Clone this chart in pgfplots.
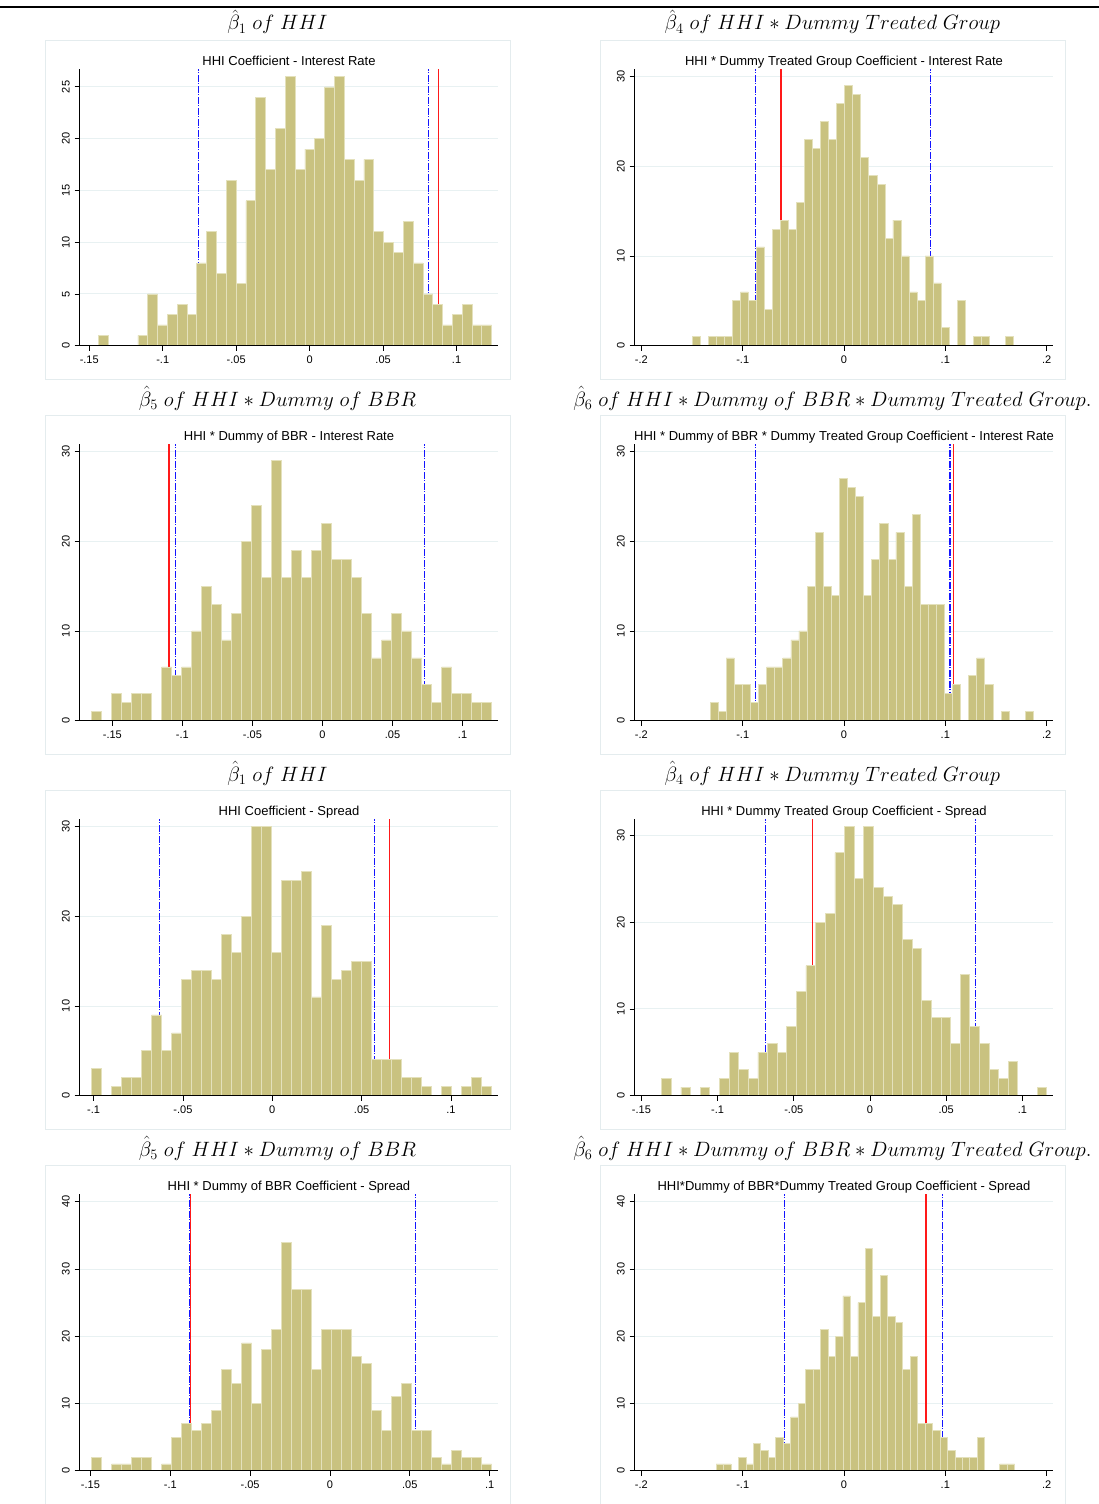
\documentclass[border=0pt]{standalone}
\usepackage{fontspec}
\setmainfont{Liberation Sans}
\usepackage{pgfplots}
\pgfplotsset{compat=1.18}

\definecolor{barfill}{RGB}{201,194,128}
\definecolor{baredge}{RGB}{228,225,188}
\definecolor{gridc}{RGB}{232,241,242}
\definecolor{panelc}{RGB}{228,236,238}
\definecolor{ciblue}{RGB}{20,20,255}
\definecolor{ptred}{RGB}{255,25,25}

\pgfplotsset{
  hist/.style={
    scale only axis, width=418.6pt, height=276.4pt, anchor=south west,
    ymin=0,
    axis x line*=bottom, axis y line*=left,
    axis line style={black, line width=0.9pt, -},
    tick style={black, line width=0.8pt},
    tick align=outside, major tick length=5pt,
    ymajorgrids, grid style={gridc, line width=0.9pt},
    xticklabel style={font=\fontsize{11}{13}\selectfont},
    xticklabel shift=2pt,
    yticklabel style={rotate=90, anchor=south, font=\fontsize{11}{13}\selectfont},
    yticklabel shift=1.5pt,
    title style={at={(0.5,1)}, anchor=base, yshift=-2pt, font=\fontsize{13}{15}\selectfont},
  },
  bars/.style={ybar interval, fill=barfill, draw=baredge, line width=0.7pt},
  ciline/.style={ciblue, line width=1.1pt, dash pattern=on 7pt off 1.5pt on 1pt off 1.5pt},
  ptline/.style={ptred, line width=1.2pt},
}
\tikzset{xaxisagain/.style={black, line width=0.9pt}}

\begin{document}
\begin{tikzpicture}
\useasboundingbox (0,0) rectangle (1099pt,-1504pt);
\draw[line width=2pt] (0,-7pt) -- (1099pt,-7pt);

% panel frames
\foreach \px in {45,600}{
  \foreach \py in {40,415,790,1165}{
    \draw[panelc, line width=0.8pt] (\px pt,-\py pt) rectangle ++(465pt,-339pt);
  }
}

% row headings
\tikzset{rowhead/.style={anchor=base, font=\fontsize{21}{24}\selectfont}}
\node[rowhead] at (277.5pt,-30pt) {$\hat{\beta}_1\ of\ HHI$};
\node[rowhead] at (832.5pt,-30pt) {$\hat{\beta}_4\ of\ HHI \ast Dummy\ Treated\ Group$};
\node[rowhead] at (277.5pt,-406pt) {$\hat{\beta}_5\ of\ HHI \ast Dummy\ of\ BBR$};
\node[rowhead] at (832.5pt,-406pt) {$\hat{\beta}_6\ of\ HHI \ast Dummy\ of\ BBR \ast Dummy\ Treated\ Group.$};
\node[rowhead] at (277.5pt,-781pt) {$\hat{\beta}_1\ of\ HHI$};
\node[rowhead] at (832.5pt,-781pt) {$\hat{\beta}_4\ of\ HHI \ast Dummy\ Treated\ Group$};
\node[rowhead] at (277.5pt,-1156pt) {$\hat{\beta}_5\ of\ HHI \ast Dummy\ of\ BBR$};
\node[rowhead] at (832.5pt,-1156pt) {$\hat{\beta}_6\ of\ HHI \ast Dummy\ of\ BBR \ast Dummy\ Treated\ Group.$};

% 1: HHI coefficient, interest rate
\begin{axis}[hist, at={(79.7pt,-345.7pt)},
  xmin=-0.1565, xmax=0.1284, ymax=26.7,
  xtick={-0.15,-0.1,-0.05,0,0.05,0.1}, xticklabels={-.15,-.1,-.05,0,.05,.1},
  ytick={0,5,10,15,20,25}, yticklabels={0,5,10,15,20,25},
  title={HHI Coefficient - Interest Rate}]
\addplot[ciline] coordinates {(-0.0759,0) (-0.0759,26.7)};
\addplot[ciline] coordinates {(0.0811,0) (0.0811,26.7)};
\addplot[ptline] coordinates {(0.0876,0) (0.0876,26.7)};
\addplot[bars] coordinates {(-0.1437,1) (-0.1370,0) (-0.1303,0) (-0.1236,0) (-0.1169,1) (-0.1103,5) (-0.1036,2) (-0.0969,3) (-0.0902,4) (-0.0835,3) (-0.0768,8) (-0.0701,11) (-0.0634,7) (-0.0567,16) (-0.0500,6) (-0.0434,14) (-0.0367,24) (-0.0300,17) (-0.0233,21) (-0.0166,26) (-0.0099,17) (-0.0032,19) (0.0035,20) (0.0102,25) (0.0169,26) (0.0236,18) (0.0302,16) (0.0369,18) (0.0436,11) (0.0503,10) (0.0570,9) (0.0637,12) (0.0704,8) (0.0771,5) (0.0838,4) (0.0905,2) (0.0971,3) (0.1038,4) (0.1105,2) (0.1172,2) (0.1239,2)};
\draw[xaxisagain] (rel axis cs:0,0) -- (rel axis cs:1,0);
\end{axis}

% 2: HHI x treated, interest rate
\begin{axis}[hist, at={(634.7pt,-345.7pt)},
  xmin=-0.2066, xmax=0.2066, ymax=30.8,
  xtick={-0.2,-0.1,0,0.1,0.2}, xticklabels={-.2,-.1,0,.1,.2},
  ytick={0,10,20,30}, yticklabels={0,10,20,30},
  title={HHI * Dummy Treated Group Coefficient - Interest Rate}]
\addplot[ciline] coordinates {(-0.0875,0) (-0.0875,30.8)};
\addplot[ciline] coordinates {(0.0855,0) (0.0855,30.8)};
\addplot[ptline] coordinates {(-0.0622,0) (-0.0622,30.8)};
\addplot[bars] coordinates {(-0.1497,1) (-0.1418,0) (-0.1339,1) (-0.1259,1) (-0.1180,1) (-0.1101,5) (-0.1022,6) (-0.0943,5) (-0.0863,11) (-0.0784,4) (-0.0705,13) (-0.0626,14) (-0.0547,13) (-0.0467,16) (-0.0388,23) (-0.0309,22) (-0.0230,25) (-0.0151,23) (-0.0071,27) (0.0008,29) (0.0087,28) (0.0166,21) (0.0245,19) (0.0325,18) (0.0404,12) (0.0483,14) (0.0562,10) (0.0641,6) (0.0721,5) (0.0800,10) (0.0879,7) (0.0958,2) (0.1037,0) (0.1117,5) (0.1196,0) (0.1275,1) (0.1354,1) (0.1433,0) (0.1513,0) (0.1592,1) (0.1671,1)};
\draw[xaxisagain] (rel axis cs:0,0) -- (rel axis cs:1,0);
\end{axis}

% 3: HHI x BBR, interest rate
\begin{axis}[hist, at={(79.7pt,-720.7pt)},
  xmin=-0.1733, xmax=0.1255, ymax=30.8,
  xtick={-0.15,-0.1,-0.05,0,0.05,0.1}, xticklabels={-.15,-.1,-.05,0,.05,.1},
  ytick={0,10,20,30}, yticklabels={0,10,20,30},
  title={HHI * Dummy of BBR - Interest Rate}]
\addplot[ciline] coordinates {(-0.1046,0) (-0.1046,30.8)};
\addplot[ciline] coordinates {(0.0726,0) (0.0726,30.8)};
\addplot[ptline] coordinates {(-0.1096,0) (-0.1096,30.8)};
\addplot[bars] coordinates {(-0.1647,1) (-0.1576,0) (-0.1504,3) (-0.1433,2) (-0.1362,3) (-0.1290,3) (-0.1219,0) (-0.1148,6) (-0.1076,5) (-0.1005,6) (-0.0933,10) (-0.0862,15) (-0.0791,13) (-0.0719,9) (-0.0648,12) (-0.0577,20) (-0.0505,24) (-0.0434,16) (-0.0363,29) (-0.0291,16) (-0.0220,19) (-0.0148,16) (-0.0077,19) (-0.0006,22) (0.0066,18) (0.0137,18) (0.0208,16) (0.0280,12) (0.0351,7) (0.0422,9) (0.0494,12) (0.0565,10) (0.0637,7) (0.0708,4) (0.0779,2) (0.0851,6) (0.0922,3) (0.0993,3) (0.1065,2) (0.1136,2) (0.1207,2)};
\draw[xaxisagain] (rel axis cs:0,0) -- (rel axis cs:1,0);
\end{axis}

% 4: HHI x BBR x treated, interest rate
\begin{axis}[hist, at={(634.7pt,-720.7pt)},
  xmin=-0.2066, xmax=0.2066, ymax=30.8,
  xtick={-0.2,-0.1,0,0.1,0.2}, xticklabels={-.2,-.1,0,.1,.2},
  ytick={0,10,20,30}, yticklabels={0,10,20,30},
  title={HHI * Dummy of BBR * Dummy Treated Group Coefficient - Interest Rate}]
\addplot[ciline] coordinates {(-0.0878,0) (-0.0878,30.8)};
\addplot[ciline] coordinates {(0.1046,0) (0.1046,30.8)};
\addplot[ptline] coordinates {(0.1079,0) (0.1079,30.8)};
\addplot[bars] coordinates {(-0.1322,2) (-0.1242,1) (-0.1163,7) (-0.1083,4) (-0.1003,4) (-0.0923,2) (-0.0843,4) (-0.0764,6) (-0.0684,6) (-0.0604,7) (-0.0524,9) (-0.0445,10) (-0.0365,15) (-0.0285,21) (-0.0205,15) (-0.0125,14) (-0.0046,27) (0.0034,26) (0.0114,25) (0.0194,14) (0.0273,18) (0.0353,22) (0.0433,18) (0.0513,21) (0.0593,15) (0.0672,23) (0.0752,13) (0.0832,13) (0.0912,13) (0.0991,3) (0.1071,4) (0.1151,0) (0.1231,5) (0.1310,7) (0.1390,4) (0.1470,0) (0.1550,1) (0.1630,0) (0.1709,0) (0.1789,1) (0.1869,1)};
\draw[xaxisagain] (rel axis cs:0,0) -- (rel axis cs:1,0);
\end{axis}

% 5: HHI coefficient, spread
\begin{axis}[hist, at={(79.7pt,-1095.7pt)},
  xmin=-0.1078, xmax=0.1265, ymax=30.8,
  xtick={-0.1,-0.05,0,0.05,0.1}, xticklabels={-.1,-.05,0,.05,.1},
  ytick={0,10,20,30}, yticklabels={0,10,20,30},
  title={HHI Coefficient - Spread}]
\addplot[ciline] coordinates {(-0.0631,0) (-0.0631,30.8)};
\addplot[ciline] coordinates {(0.0573,0) (0.0573,30.8)};
\addplot[ptline] coordinates {(0.0657,0) (0.0657,30.8)};
\addplot[bars] coordinates {(-0.1011,3) (-0.0955,0) (-0.0899,1) (-0.0843,2) (-0.0787,2) (-0.0731,5) (-0.0675,9) (-0.0619,5) (-0.0563,7) (-0.0507,13) (-0.0451,14) (-0.0395,14) (-0.0339,13) (-0.0283,18) (-0.0227,16) (-0.0171,20) (-0.0116,30) (-0.0060,30) (-0.0004,16) (0.0052,24) (0.0108,24) (0.0164,25) (0.0220,11) (0.0276,19) (0.0332,13) (0.0388,14) (0.0444,15) (0.0500,15) (0.0556,4) (0.0612,4) (0.0668,4) (0.0724,2) (0.0780,2) (0.0836,1) (0.0892,0) (0.0948,1) (0.1004,0) (0.1060,1) (0.1116,2) (0.1172,1) (0.1228,1)};
\draw[xaxisagain] (rel axis cs:0,0) -- (rel axis cs:1,0);
\end{axis}

% 6: HHI x treated, spread
\begin{axis}[hist, at={(634.7pt,-1095.7pt)},
  xmin=-0.1544, xmax=0.1203, ymax=31.85,
  xtick={-0.15,-0.1,-0.05,0,0.05,0.1}, xticklabels={-.15,-.1,-.05,0,.05,.1},
  ytick={0,10,20,30}, yticklabels={0,10,20,30},
  title={HHI * Dummy Treated Group Coefficient - Spread}]
\addplot[ciline] coordinates {(-0.0684,0) (-0.0684,31.85)};
\addplot[ciline] coordinates {(0.0692,0) (0.0692,31.85)};
\addplot[ptline] coordinates {(-0.0376,0) (-0.0376,31.85)};
\addplot[bars] coordinates {(-0.1367,2) (-0.1304,0) (-0.1241,1) (-0.1178,0) (-0.1114,1) (-0.1051,0) (-0.0988,2) (-0.0925,5) (-0.0862,3) (-0.0799,2) (-0.0735,5) (-0.0672,6) (-0.0609,5) (-0.0546,8) (-0.0483,12) (-0.0420,15) (-0.0356,20) (-0.0293,21) (-0.0230,28) (-0.0167,31) (-0.0104,25) (-0.0041,31) (0.0023,24) (0.0086,23) (0.0149,22) (0.0212,18) (0.0275,17) (0.0338,11) (0.0402,9) (0.0465,9) (0.0528,6) (0.0591,14) (0.0654,8) (0.0717,6) (0.0780,3) (0.0844,2) (0.0907,4) (0.0970,0) (0.1033,0) (0.1096,1) (0.1159,1)};
\draw[xaxisagain] (rel axis cs:0,0) -- (rel axis cs:1,0);
\end{axis}

% 7: HHI x BBR, spread
\begin{axis}[hist, at={(79.7pt,-1470.7pt)},
  xmin=-0.1567, xmax=0.1054, ymax=41.1,
  xtick={-0.15,-0.1,-0.05,0,0.05,0.1}, xticklabels={-.15,-.1,-.05,0,.05,.1},
  ytick={0,10,20,30,40}, yticklabels={0,10,20,30,40},
  title={HHI * Dummy of BBR Coefficient - Spread}]
\addplot[ciline] coordinates {(-0.0878,0) (-0.0878,41.1)};
\addplot[ciline] coordinates {(0.0535,0) (0.0535,41.1)};
\addplot[ptline] coordinates {(-0.0872,0) (-0.0872,41.1)};
\addplot[bars] coordinates {(-0.1492,2) (-0.1429,0) (-0.1367,1) (-0.1304,1) (-0.1242,2) (-0.1179,2) (-0.1116,0) (-0.1054,1) (-0.0991,5) (-0.0929,7) (-0.0866,6) (-0.0803,7) (-0.0741,9) (-0.0678,15) (-0.0616,13) (-0.0553,19) (-0.0490,10) (-0.0428,18) (-0.0365,21) (-0.0303,34) (-0.0240,27) (-0.0177,27) (-0.0115,15) (-0.0052,21) (0.0010,21) (0.0073,21) (0.0136,17) (0.0198,16) (0.0261,9) (0.0323,6) (0.0386,11) (0.0449,13) (0.0511,6) (0.0574,6) (0.0636,2) (0.0699,1) (0.0762,3) (0.0824,2) (0.0887,2) (0.0949,1) (0.1012,1)};
\draw[xaxisagain] (rel axis cs:0,0) -- (rel axis cs:1,0);
\end{axis}

% 8: HHI x BBR x treated, spread
\begin{axis}[hist, at={(634.7pt,-1470.7pt)},
  xmin=-0.2066, xmax=0.2066, ymax=41.1,
  xtick={-0.2,-0.1,0,0.1,0.2}, xticklabels={-.2,-.1,0,.1,.2},
  ytick={0,10,20,30,40}, yticklabels={0,10,20,30,40},
  title={HHI*Dummy of BBR*Dummy Treated Group Coefficient - Spread}]
\addplot[ciline] coordinates {(-0.0589,0) (-0.0589,41.1)};
\addplot[ciline] coordinates {(0.0970,0) (0.0970,41.1)};
\addplot[ptline] coordinates {(0.0809,0) (0.0809,41.1)};
\addplot[bars] coordinates {(-0.1263,1) (-0.1189,1) (-0.1116,0) (-0.1042,2) (-0.0968,1) (-0.0895,4) (-0.0821,3) (-0.0747,2) (-0.0674,5) (-0.0600,4) (-0.0526,8) (-0.0453,10) (-0.0379,15) (-0.0305,15) (-0.0232,21) (-0.0158,17) (-0.0084,20) (-0.0010,26) (0.0063,17) (0.0137,25) (0.0211,33) (0.0284,23) (0.0358,29) (0.0432,23) (0.0505,22) (0.0579,15) (0.0653,17) (0.0726,7) (0.0800,7) (0.0874,6) (0.0947,5) (0.1021,3) (0.1095,2) (0.1168,2) (0.1242,2) (0.1316,5) (0.1389,0) (0.1463,0) (0.1537,1) (0.1610,1) (0.1684,1)};
\draw[xaxisagain] (rel axis cs:0,0) -- (rel axis cs:1,0);
\end{axis}
\end{tikzpicture}
\end{document}
